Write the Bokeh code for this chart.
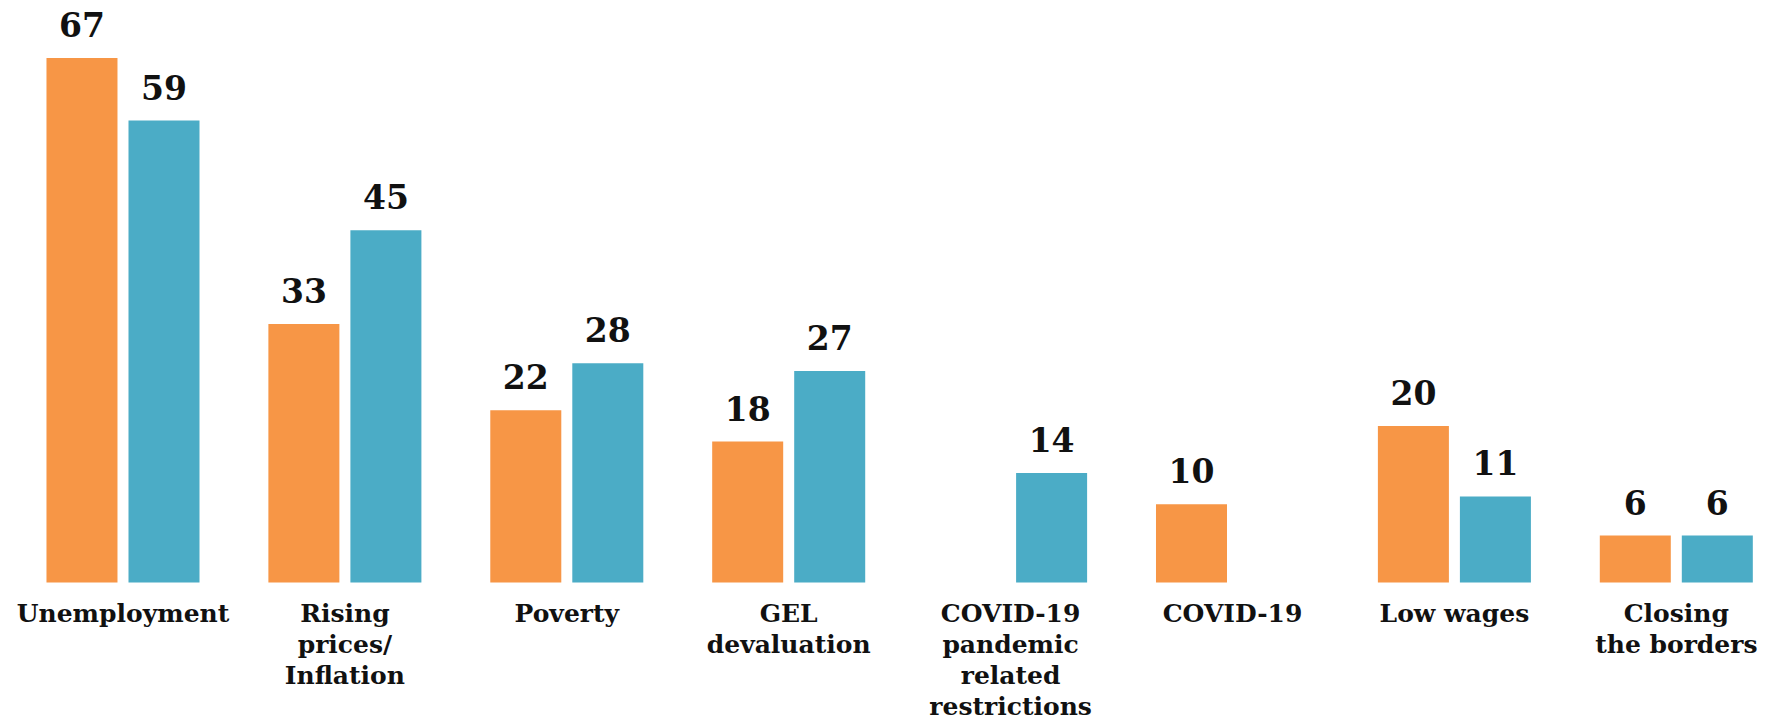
from bokeh.plotting import figure
from bokeh.models import ColumnDataSource, Range1d
from bokeh.core.properties import value
from bokeh.embed import file_html
from bokeh.resources import INLINE

# ---- data ----
categories = [
    "Unemployment",
    "Rising\nprices/\nInflation",
    "Poverty",
    "GEL\ndevaluation",
    "COVID-19\npandemic\nrelated\nrestrictions",
    "COVID-19",
    "Low wages",
    "Closing\nthe borders",
]
orange_values = [67, 33, 22, 18, None, 10, 20, 6]
blue_values = [59, 45, 28, 27, 14, None, 11, 6]

ORANGE = "#F79646"
BLUE = "#4BACC6"
FONT = "DejaVu Serif"

DODGE = 0.1848
BAR_W = 0.32


def series_source(vals, offset):
    xs, tops, labels = [], [], []
    for i, v in enumerate(vals):
        if v is None:
            continue
        xs.append(i + offset)
        tops.append(v)
        labels.append(str(v))
    return ColumnDataSource(dict(x=xs, top=tops, label=labels))


src_o = series_source(orange_values, -DODGE)
src_b = series_source(blue_values, DODGE)
src_c = ColumnDataSource(dict(x=list(range(len(categories))),
                              y=[0] * len(categories),
                              label=categories))

p = figure(width=1771, height=721,
           x_range=Range1d(-0.552, 7.429), y_range=Range1d(-17.75, 74.33),
           x_axis_type=None, y_axis_type=None,
           toolbar_location=None, output_backend="svg",
           min_border=0, outline_line_color=None)
p.grid.visible = False
p.background_fill_color = "white"
p.border_fill_color = "white"

p.vbar(x="x", top="top", bottom=0, width=BAR_W, source=src_o,
       fill_color=ORANGE, line_color=None)
p.vbar(x="x", top="top", bottom=0, width=BAR_W, source=src_b,
       fill_color=BLUE, line_color=None)

for src in (src_o, src_b):
    p.text(x="x", y="top", text="label", source=src,
           text_font=value(FONT), text_font_style="bold",
           text_font_size="33px", text_color="#111111",
           text_align="center", text_baseline="bottom", y_offset=-21)

p.text(x="x", y="y", text="label", source=src_c,
       text_font=value(FONT), text_font_style="bold",
       text_font_size="25px", text_color="#111111",
       text_align="center", text_baseline="top", y_offset=16,
       text_line_height=1.07)

open("out.html", "w").write(file_html(p, INLINE))
